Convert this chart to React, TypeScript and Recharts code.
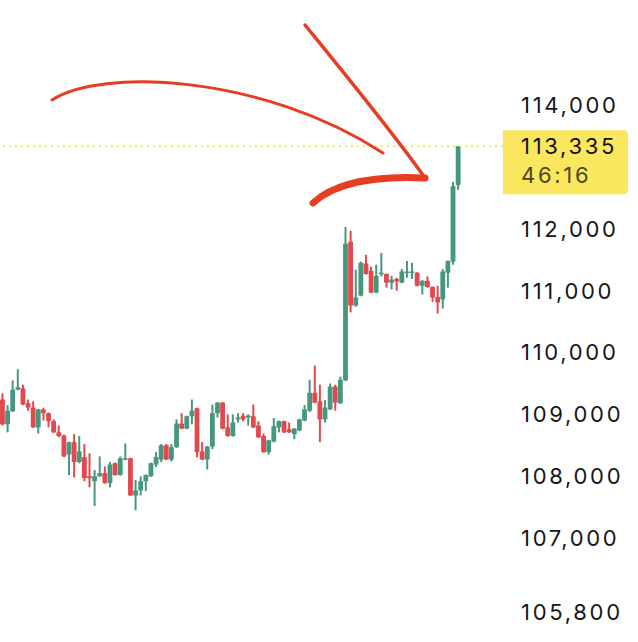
import React from "react";
import { ComposedChart, Bar, XAxis, YAxis, ReferenceLine } from "recharts";

// OHLC per candle (oldest first)
const opens = [
  109240, 108840, 109050, 109400, 109420, 109180, 109110, 108790, 109080, 109020,
  108890, 108710, 108660, 108350, 108550, 108230, 108310, 108000, 107920, 108000,
  108050, 107890, 108210, 108020, 108270, 108290, 107690, 107770, 107920, 108000,
  108190, 108270, 108500, 108270, 108470, 108850, 108770, 108970, 109100, 108400,
  108270, 108480, 109020, 109190, 108790, 108650, 108920, 108980, 108950, 108970,
  108820, 108650, 108390, 108560, 108790, 108890, 108760, 108680, 108740, 108900,
  109060, 109350, 109210, 108920, 109080, 109450, 109180, 109550, 111790, 110760,
  110920, 111440, 111320, 110970, 111270, 111270, 111130, 111190, 111130, 111290,
  111290, 111290, 111080, 111160, 111060, 110900, 110860, 111290, 111470, 112710,
];
const highs = [
  109340, 109150, 109550, 109730, 109480, 109240, 109210, 109090, 109110, 109030,
  108920, 108820, 108670, 108560, 108680, 108650, 108520, 108370, 108100, 108320,
  108160, 108230, 108220, 108320, 108530, 108300, 107940, 108000, 108030, 108220,
  108390, 108520, 108520, 108520, 108920, 109020, 108980, 109240, 109110, 108550,
  108490, 109160, 109200, 109200, 109000, 109000, 109020, 109020, 109000, 109160,
  108890, 108690, 108590, 108940, 108900, 108900, 108870, 108780, 108930, 109150,
  109560, 109790, 109480, 109230, 109500, 109480, 109610, 112030, 111970, 111340,
  111470, 111580, 111390, 111420, 111610, 111280, 111240, 111210, 111350, 111480,
  111450, 111300, 111170, 111230, 111070, 111080, 111350, 111490, 112760, 113340,
];
const lows = [
  108820, 108710, 109040, 109390, 109150, 109060, 108780, 108690, 108900, 108790,
  108700, 108630, 108310, 108020, 107980, 108210, 107920, 107820, 107520, 107990,
  107880, 107820, 108010, 108010, 108260, 107680, 107450, 107690, 107760, 107990,
  108150, 108230, 108260, 108240, 108460, 108760, 108760, 108840, 108310, 108260,
  108110, 108440, 108950, 108760, 108640, 108640, 108870, 108890, 108820, 108780,
  108620, 108380, 108350, 108550, 108710, 108700, 108700, 108600, 108730, 108890,
  109040, 109180, 108550, 108870, 109070, 109060, 109170, 109540, 110650, 110740,
  110910, 111260, 110960, 110960, 111230, 111050, 111020, 111000, 111120, 111210,
  111190, 111070, 110940, 111050, 110820, 110630, 110710, 111050, 111420, 112630,
];
const closes = [
  108840, 109060, 109400, 109440, 109160, 109110, 108790, 109080, 109020, 108890,
  108710, 108650, 108320, 108550, 108230, 108400, 107970, 107970, 108000, 108050,
  107890, 108190, 108020, 108290, 108290, 107690, 107770, 107920, 108020, 108210,
  108310, 108500, 108270, 108470, 108850, 108770, 108970, 109060, 108390, 108270,
  108480, 109020, 109190, 108770, 108650, 108870, 108950, 108920, 108980, 108790,
  108630, 108390, 108580, 108810, 108890, 108710, 108710, 108770, 108920, 109080,
  109350, 109190, 108920, 109110, 109450, 109190, 109560, 111760, 110760, 110890,
  111450, 111270, 110970, 111240, 111290, 111130, 111180, 111150, 111310, 111310,
  111310, 111080, 111160, 111060, 110890, 110810, 111310, 111480, 112690, 113335,
];

const yTicks = [105800, 107000, 108000, 109000, 110000, 111000, 112000, 114000];
const countdown = "46:16";

const GREEN = "#47977f";
const RED = "#e2484d";
const YELLOW = "#fbe75e";
const FONT = "Inter, 'Noto Sans', sans-serif";
const LABEL_SIZE = 22;
const LABEL_SPACING = 2.7;

const data = opens.map((open, i) => ({
  i,
  open,
  high: highs[i],
  low: lows[i],
  close: closes[i],
}));
const lastClose = closes[closes.length - 1];

const Candle = (props: any) => {
  const { x, y, width, height, payload } = props;
  const { open, close, high, low } = payload;
  const color = close >= open ? GREEN : RED;
  const top = Math.min(y, y + height);
  const h = Math.abs(height);
  const ratio = high > low ? h / (high - low) : 0;
  const yOf = (p: number) => top + (high - p) * ratio;
  const bodyTop = yOf(Math.max(open, close));
  const bodyBottom = yOf(Math.min(open, close));
  const cx = x + width / 2;
  return (
    <g>
      <rect x={cx - 1} y={top} width={2} height={Math.max(h, 1)} fill={color} />
      <rect
        x={cx - 2.4}
        y={bodyTop}
        width={4.8}
        height={Math.max(bodyBottom - bodyTop, 1.5)}
        fill={color}
      />
    </g>
  );
};

const PriceTick = (props: any) => {
  const { y, payload } = props;
  return (
    <text
      x={521}
      y={y}
      dy="0.36em"
      fill="#141720"
      fontSize={LABEL_SIZE}
      letterSpacing={LABEL_SPACING}
      fontFamily={FONT}
      textAnchor="start"
    >
      {payload.value.toLocaleString("en-US")}
    </text>
  );
};

const PriceTag = (props: any) => {
  const vb = props.viewBox || {};
  const left = vb.x + vb.width;
  const y = vb.y;
  const top = y - 16;
  const w = 125;
  const h = 64;
  const r = 5;
  const d = `M${left},${top} H${left + w - r} Q${left + w},${top} ${left + w},${top + r} V${top + h - r} Q${left + w},${top + h} ${left + w - r},${top + h} H${left} Z`;
  return (
    <g>
      <path d={d} fill={YELLOW} />
      <text
        x={521}
        y={y}
        dy="0.36em"
        fill="#111"
        fontSize={LABEL_SIZE}
        letterSpacing={LABEL_SPACING}
        fontFamily={FONT}
      >
        {lastClose.toLocaleString("en-US")}
      </text>
      <text
        x={521}
        y={y + 29}
        dy="0.36em"
        fill="#4a4522"
        fontSize={LABEL_SIZE}
        letterSpacing={LABEL_SPACING}
        fontFamily={FONT}
      >
        {countdown}
      </text>
    </g>
  );
};

export default function App() {
  return (
    <div style={{ position: "absolute", left: 0, top: 0, width: 638, height: 642, background: "#fff" }}>
      <ComposedChart
        width={638}
        height={642}
        data={data}
        margin={{ top: 0, right: 0, bottom: 0, left: 0 }}
      >
        <XAxis dataKey="i" type="number" domain={[-0.49, 97.75]} hide />
        <YAxis
          orientation="right"
          width={135}
          domain={[105320, 115700]}
          allowDataOverflow
          ticks={yTicks}
          interval={0}
          axisLine={false}
          tickLine={false}
          tick={<PriceTick />}
        />
        <ReferenceLine
          y={lastClose}
          stroke="#f0dc3c"
          strokeWidth={1.5}
          strokeDasharray="2 4"
          label={<PriceTag />}
        />
        <Bar
          dataKey={(d: any) => [d.low, d.high]}
          barSize={5}
          shape={<Candle />}
          isAnimationActive={false}
        />
      </ComposedChart>
      <svg
        width={638}
        height={642}
        style={{ position: "absolute", left: 0, top: 0, pointerEvents: "none" }}
      >
        <path
          d="M52,100 C100,68 262,74 383,153"
          fill="none"
          stroke="#e63e22"
          strokeWidth={3}
          strokeLinecap="round"
        />
        <path
          d="M305,25 C340,68 395,135 425,178"
          fill="none"
          stroke="#e63e22"
          strokeWidth={3.5}
          strokeLinecap="round"
        />
        <path
          d="M425,178 C385,176 338,180 313,203"
          fill="none"
          stroke="#e63e22"
          strokeWidth={7}
          strokeLinecap="round"
        />
      </svg>
    </div>
  );
}
